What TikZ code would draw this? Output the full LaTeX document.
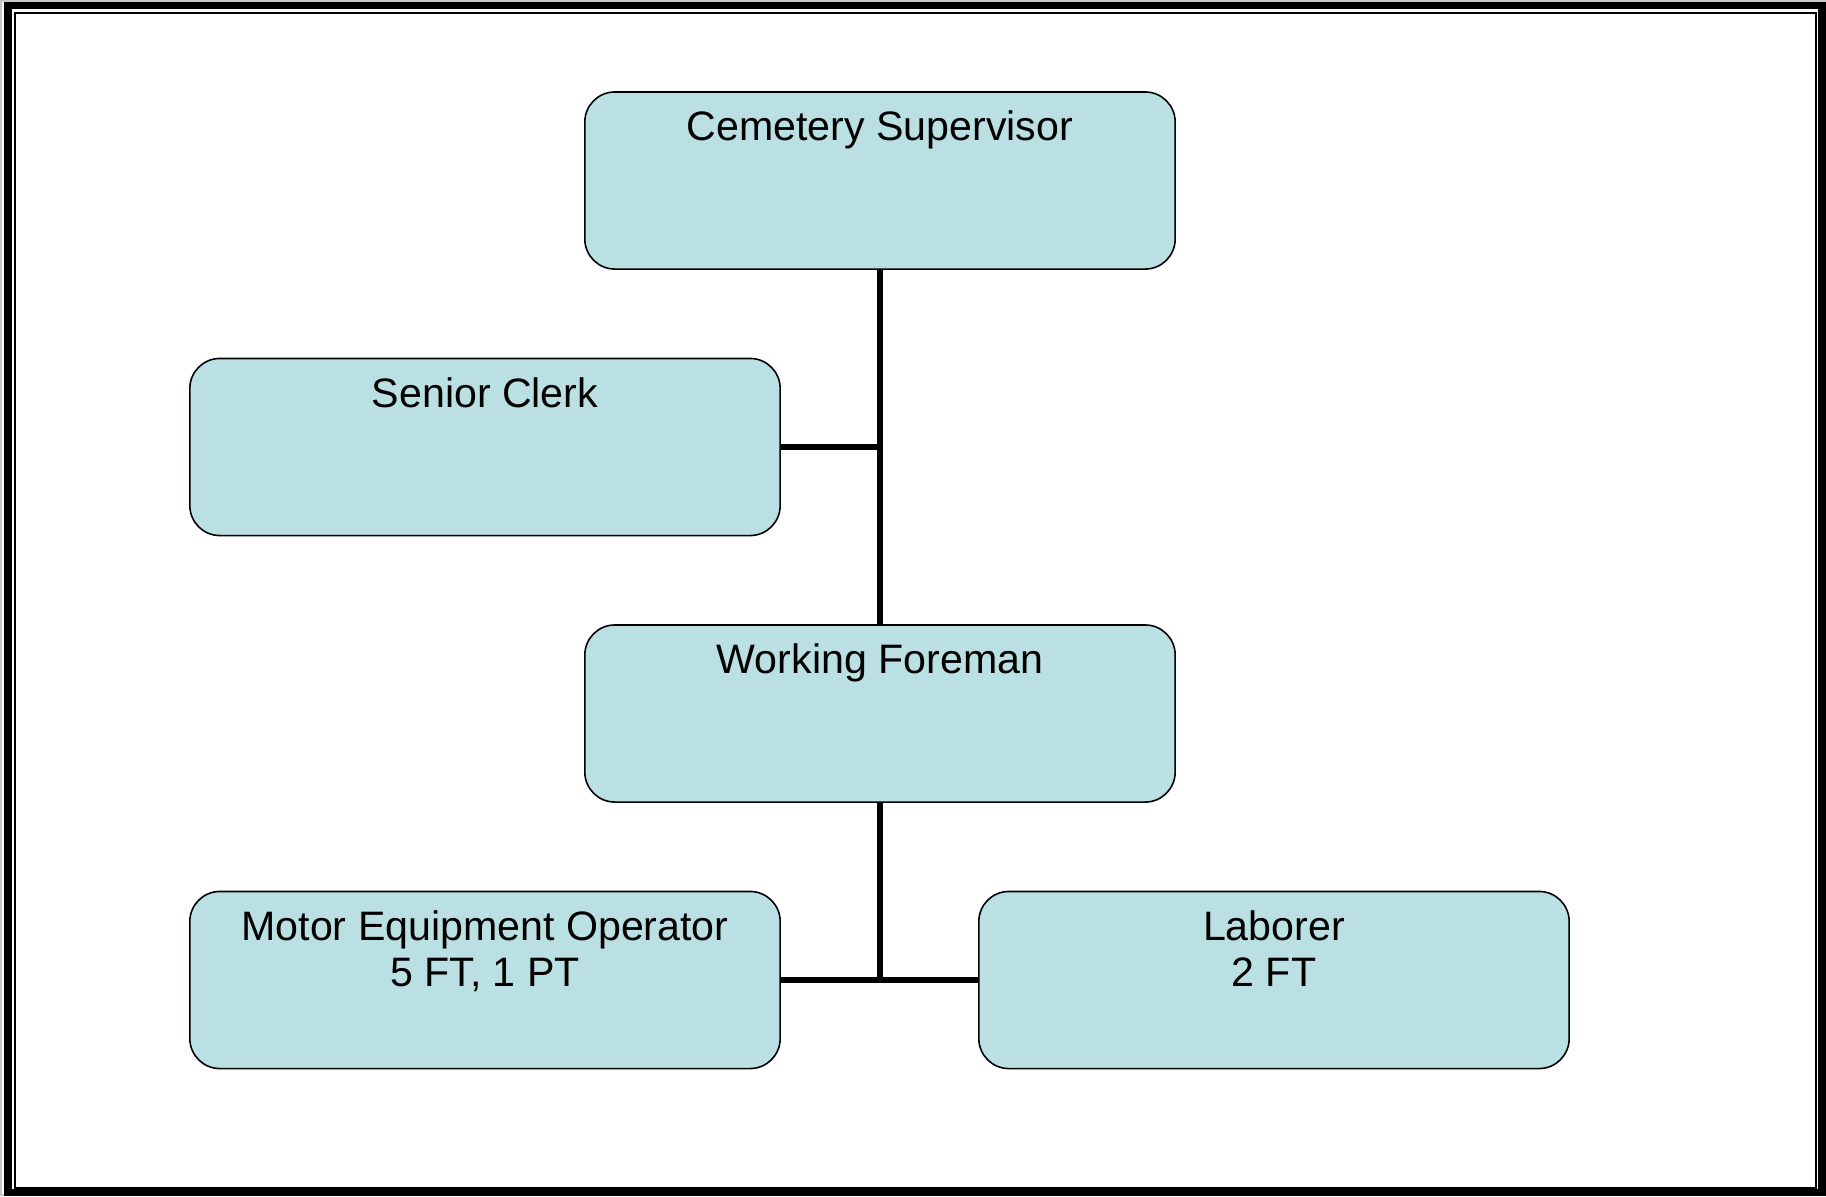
\documentclass[tikz,border=0pt]{standalone}
\usepackage{fontspec}
\setmainfont{Liberation Sans}
\usetikzlibrary{positioning}
\definecolor{boxblue}{RGB}{186,224,227}
\tikzset{
	post/.style={draw=black, line width=0.45pt, fill=boxblue, rounded corners=0.3cm,
		minimum width=5.9cm, minimum height=1.77cm, inner sep=0pt},
	title/.style={anchor=north, inner sep=0pt, yshift=-0.19cm, align=center,
		font=\fontsize{11.7pt}{13.1pt}\selectfont},
	link/.style={line width=1.45pt}
}

\begin{document}
\begin{tikzpicture}[x=0.01cm, y=-0.01cm]
			%%%%% START %%%%%
			
			\useasboundingbox (0, 0) rectangle (1826, 1196);
			
			% frame
			\draw[line width=0.6pt, color=black!22] (1, 1) rectangle (1825, 1195);
			\draw[line width=2.15pt] (8, 5.5) rectangle (1822, 1192.5);
			\draw[line width=0.6pt] (15, 13) rectangle (1816, 1188);
			
			% posts
			\node[post, label={[title]north:Cemetery Supervisor}] (sup) at (880, 180.5) {};
			\node[post, label={[title]north:Senior Clerk}] (clerk) at (485, 447) {};
			\node[post, label={[title]north:Working Foreman}] (fore) at (880, 713.5) {};
			\node[post, label={[title]north:Motor Equipment Operator\\5 FT, 1 PT}] (meo) at (485, 980) {};
			\node[post, label={[title]north:Laborer\\2 FT}] (lab) at (1274, 980) {};
			
			% lines
			\draw[link] (sup.south) -- (fore.north);
			\draw[link] (clerk.east) -- (clerk.east -| sup.south);
			\coordinate (bus) at (fore.south |- meo.east);
			\draw[link] (fore.south) -- (bus);
			\draw[link] (meo.east) -- (lab.west);
			
			%%%%% END %%%%%
		\end{tikzpicture}
\end{document}
